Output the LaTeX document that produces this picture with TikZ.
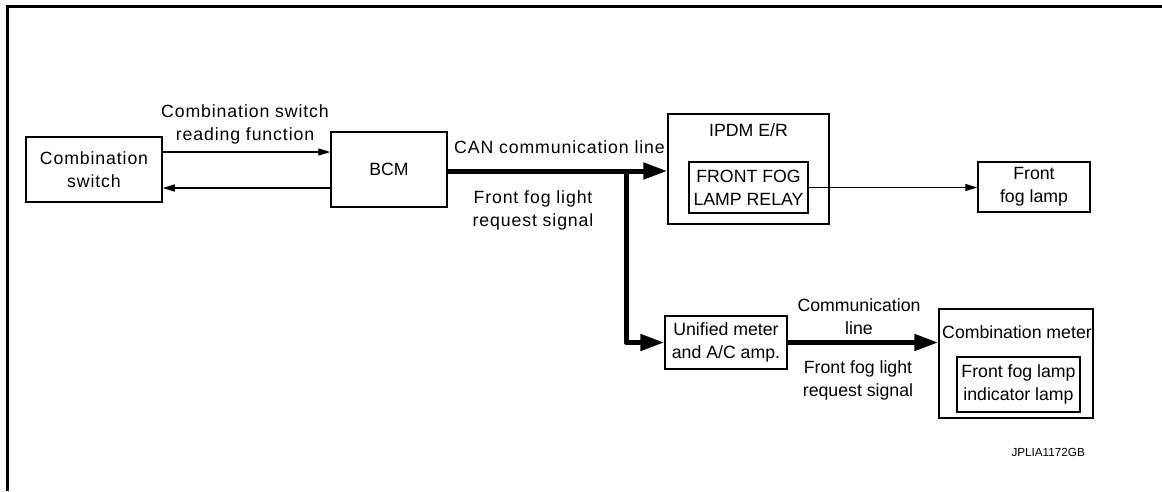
\documentclass[tikz,border=0pt]{standalone}
\usepackage{fontspec}
\setmainfont{Liberation Sans}
\newfontfamily\widefont{Liberation Sans}[LetterSpace=5]
\usetikzlibrary{arrows.meta}
\newcommand{\fs}{\fontsize{17.7pt}{23pt}\selectfont}
\newcommand{\fw}{\widefont\fontsize{17.7pt}{23pt}\selectfont}
\tikzset{
  box/.style={draw, line width=1.5pt, inner sep=0pt, align=center, font=\fs},
  lbl/.style={inner sep=0pt, align=center, font=\fs},
  thinarrow/.style={line width=1.3pt, -{Triangle[length=12pt,width=7pt]}},
  thickarrow/.style={line width=5pt, line join=round, -{Triangle[length=24pt,width=16pt]}},
}
\begin{document}
\begin{tikzpicture}[x=1pt,y=-1pt]
\useasboundingbox (0,0) rectangle (1162,491);
\draw[line width=3pt] (7,491) -- (7,6.5) -- (1162,6.5);

\node[box, font=\fw, minimum width=136pt, minimum height=65pt] (sw) at (94,169.5) {Combination\\switch};
\node[box, minimum width=116pt, minimum height=75pt] (bcm) at (389,169.5) {BCM};
\node[box, minimum width=161pt, minimum height=110pt] (ipdm) at (748.5,169) {};
\node[lbl] (ipdmt) at (748.5,130) {IPDM E/R};
\node[box, minimum width=119pt, minimum height=51pt] (relay) at (748.5,187.5) {FRONT FOG\\LAMP RELAY};
\node[box, minimum width=112pt, minimum height=50pt] (lamp) at (1034,187) {Front\\fog lamp};
\node[box, minimum width=122pt, minimum height=53pt] (unified) at (726,342.5) {Unified meter\\and A/C amp.};
\node[box, minimum width=154pt, minimum height=109pt] (cmeter) at (1016,363.5) {};
\node[lbl] (cmetert) at (1017,332) {Combination meter};
\node[box, minimum width=123pt, minimum height=55pt] (ind) at (1018.5,384.5) {Front fog lamp\\indicator lamp};

\coordinate (j) at (626,171);
\coordinate (up) at (0,152);
\coordinate (dn) at (0,188);

\draw[thinarrow] (sw.east |- up) -- (bcm.west |- up);
\draw[thinarrow] (bcm.west |- dn) -- (sw.east |- dn);
\draw[thickarrow] (bcm.east |- j) -- (ipdm.west |- j);
\draw[thickarrow] (j) |- (unified.west);
\draw[thickarrow] (unified.east) -- (cmeter.west |- unified.east);
\draw[thinarrow] (relay.east) -- (lamp.west |- relay.east);

\node[lbl, font=\fw] (l1) at (245,124.5) {Combination switch\\reading function};
\node[lbl, font=\fw] (l2) at (559.5,147) {CAN communication line};
\node[lbl, font=\fw] (l3) at (533,210) {Front fog light\\request signal};
\node[lbl] (l4) at (859,316.5) {Communication\\line};
\node[lbl] (l5) at (858,380) {Front fog light\\request signal};
\node[inner sep=0pt, anchor=east, font=\fontsize{11.7pt}{14pt}\selectfont] (code) at (1085,452) {JPLIA1172GB};
\end{tikzpicture}
\end{document}
